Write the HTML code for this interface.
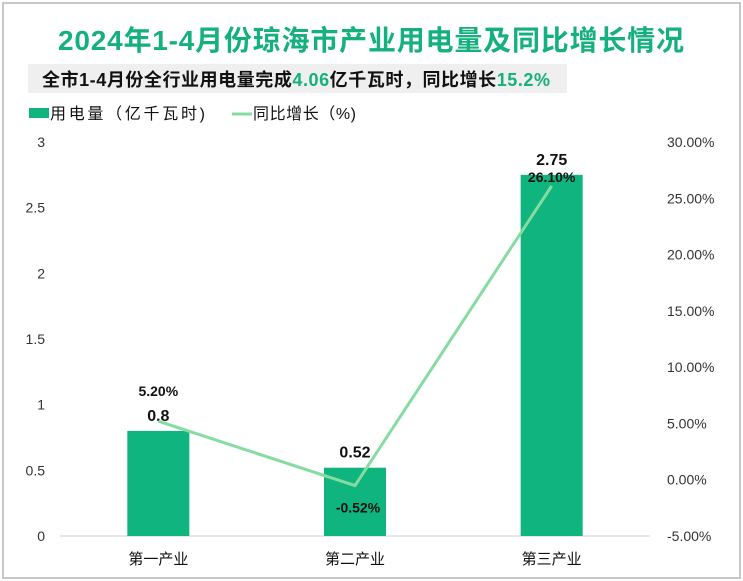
<!DOCTYPE html>
<html><head><meta charset="utf-8"><style>
body{margin:0;background:#fff;font-family:"Liberation Sans","Noto Sans CJK SC",sans-serif}
#wrap{position:relative;width:743px;height:581px;overflow:hidden}
</style></head><body>
<div id="wrap">
<svg id="svg" width="743" height="581" xmlns="http://www.w3.org/2000/svg" font-family="Liberation Sans, Noto Sans CJK SC, sans-serif">
<rect x="3" y="3" width="737" height="575" fill="#fff" stroke="#c8c8c8" stroke-width="2"/>
<text x="371" y="50" text-anchor="middle" font-size="28" font-weight="bold" fill="#14b07e" textLength="626">2024年1-4月份琼海市产业用电量及同比增长情况</text>
<rect x="28" y="64" width="539" height="29" fill="#efefef"/>
<text x="42" y="86" font-size="18" font-weight="bold" fill="#111" textLength="508">全市1-4月份全行业用电量完成<tspan fill="#14b07e">4.06</tspan>亿千瓦时，同比增长<tspan fill="#14b07e">15.2%</tspan></text>
<rect x="29" y="108" width="20" height="10" fill="#0fb47e"/>
<text x="50" y="119" font-size="16" fill="#111" textLength="155">用电量（亿千瓦时)</text>
<line x1="232" y1="114" x2="252" y2="114" stroke="#86dca0" stroke-width="3"/>
<text x="253" y="119" font-size="16" fill="#111" textLength="103">同比增长（%)</text>
<g id="plot"></g>
</svg>
</div>
<script>
const categories=["第一产业","第二产业","第三产业"];
const powerValues=[0.8,0.52,2.75];
const growthValues=[5.2,-0.52,26.1];
const leftTicks=[0,0.5,1,1.5,2,2.5,3];
const rightTicks=[-5,0,5,10,15,20,25,30];

const NS="http://www.w3.org/2000/svg";
const g=document.getElementById('plot');
const x0=60,x1=650,yTop=142,yBot=536;
const yL=v=>yBot-(v-0)/3*(yBot-yTop);
const yR=v=>yBot-(v+5)/35*(yBot-yTop);
const band=(x1-x0)/categories.length;
const xC=i=>x0+band*(i+0.5);
function mk(t,a,txt){const e=document.createElementNS(NS,t);for(const k in a)e.setAttribute(k,a[k]);if(txt!=null)e.textContent=txt;g.appendChild(e);return e;}
leftTicks.forEach(v=>{
 const e=mk('text',{x:45,y:yL(v)+5,'text-anchor':'end','font-size':14,fill:'#333'},String(v));
 
 
});
rightTicks.forEach(v=>{
 const e=mk('text',{x:667,y:yR(v)+5,'font-size':14,fill:'#333'},v.toFixed(2)+'%');
 
 
});
const ax=mk('line',{x1:x0,x2:x1,y1:yBot,y2:yBot,stroke:'#d0d0d0','stroke-width':1});


categories.forEach((c,i)=>{
 const bw=62,h=yBot-yL(powerValues[i]);
 const b=mk('rect',{x:xC(i)-bw/2,y:yL(powerValues[i]),width:bw,height:h,fill:'#0fb47e'});
 
 
 const t=mk('text',{x:xC(i),y:yBot+28,'text-anchor':'middle','font-size':15,fill:'#111'},c);
 
 
 const l=mk('text',{x:xC(i),y:yL(powerValues[i])-10,'text-anchor':'middle','font-size':16,'font-weight':'bold',fill:'#111'},String(powerValues[i]));
 
 
});
const pts=growthValues.map((v,i)=>xC(i)+','+yR(v)).join(' ');
const pl=mk('polyline',{points:pts,fill:'none',stroke:'#86dca0','stroke-width':3});


growthValues.forEach((v,i)=>{
 const yy=i===1?yR(v)+27:yR(v)-(i===2?4:25);
 const t=mk('text',{x:xC(i)+(i===1?3:0),y:yy,'text-anchor':'middle','font-size':14,'font-weight':'bold',fill:'#111'},v.toFixed(2)+'%');
 
 
});
</script>
</body></html>
